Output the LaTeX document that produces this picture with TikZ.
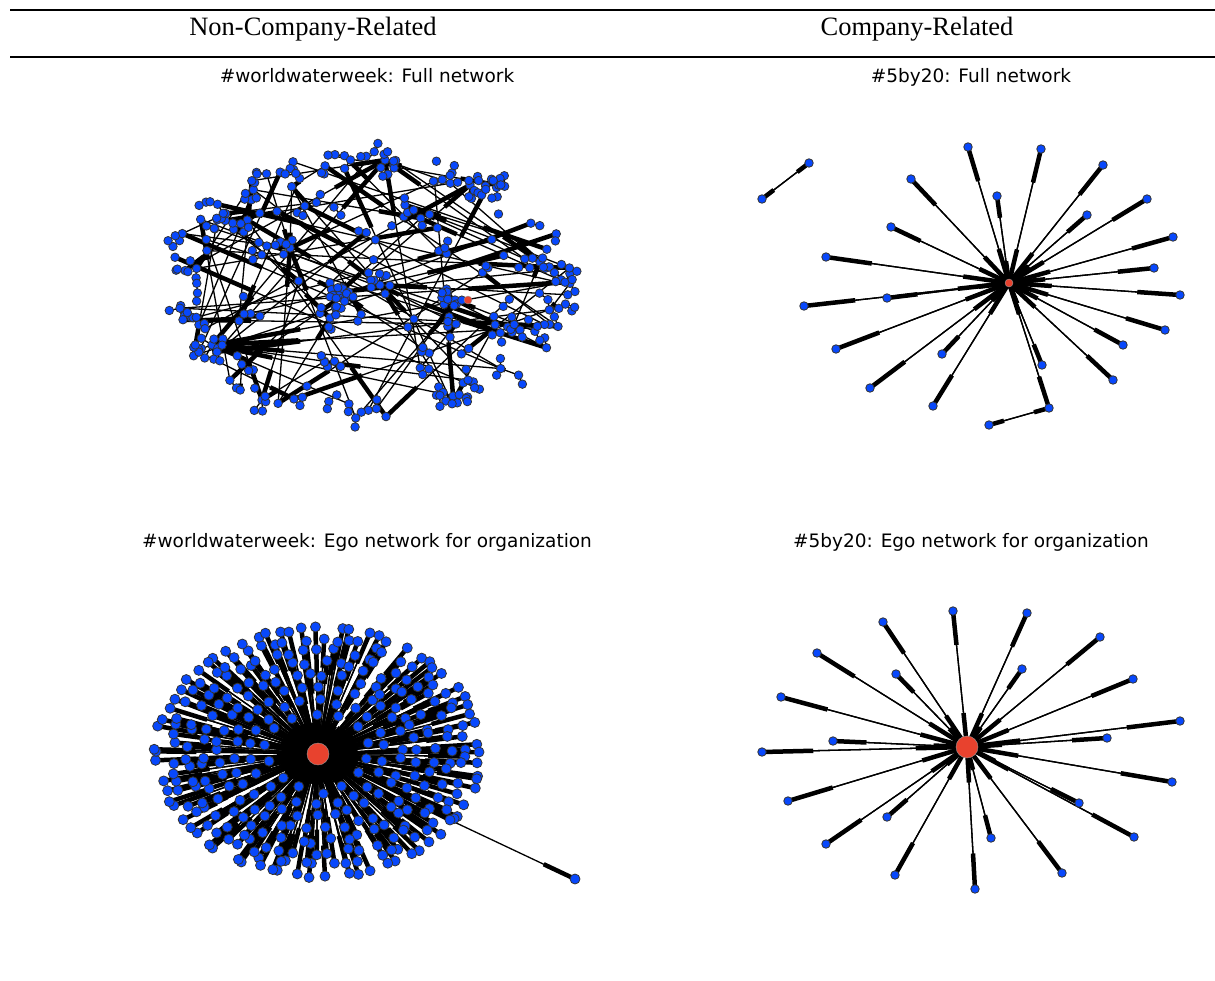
\documentclass[tikz,border=0pt]{standalone}
\usepackage{fontspec}
\setmainfont{Liberation Serif}
\newfontfamily\plotfont{DejaVu Sans}
\usetikzlibrary{calc,backgrounds}

\definecolor{nodeblue}{RGB}{8,72,252}
\definecolor{nodered}{RGB}{232,66,46}

% thin line with a thick bar on the last quarter, as networkx draws arrows
\newcommand{\arrowedge}[2]{%
  \draw[thinlink] (#1.center) -- (#2.center);
  \draw[headlink] ($(#1.center)!0.75!(#2.center)$) -- (#2.center);}

\begin{document}
\begin{tikzpicture}[x=1pt,y=-1pt,
leaf/.style={circle,draw=black!80,fill=nodeblue,line width=0.8pt,inner sep=0pt,minimum size=8.5pt},
bigleaf/.style={leaf,minimum size=10pt},
ego/.style={circle,draw=black!40,fill=nodered,line width=0.4pt,inner sep=0pt,minimum size=8pt},
bigego/.style={ego,minimum size=22pt},
thinlink/.style={line width=1.3pt},
headlink/.style={line width=4.5pt},
rule/.style={line width=2pt},
header/.style={font=\fontsize{26.5}{30}\selectfont,anchor=base},
plottitle/.style={font=\plotfont\fontsize{18.5}{22}\selectfont,anchor=base}]

\useasboundingbox (0,0) rectangle (1215,980);

% table head
\draw[rule] (10,10) -- (1215,10);
\draw[rule] (10,57) -- (1215,57);
\node[header] (nonco) at (313,35) {Non-Company-Related};
\node[header] (co) at (917,35) {Company-Related};

% titles
\node[plottitle] (t1) at (367,82) {\#worldwaterweek: Full network};
\node[plottitle] (t2) at (971,82) {\#5by20: Full network};
\node[plottitle] (t3) at (367,547) {\#worldwaterweek: Ego network for organization};
\node[plottitle] (t4) at (971,547) {\#5by20: Ego network for organization};

\pgfmathsetseed{57}

% #worldwaterweek full network: hubs
\foreach \c/\hx/\hy/\m in {1/340/292/12, 2/380/285/9, 3/330/318/9, 4/455/300/10,
    5/290/248/6, 6/540/262/6, 7/212/345/8, 8/470/185/6, 9/405/205/5,
    10/262/400/6, 11/385/160/5, 12/520/330/6} {
  \expandafter\xdef\csname fsize-\c\endcsname{\m}
  \foreach \j in {1,...,\m} {
    \pgfmathsetmacro{\a}{rnd*360}
    \pgfmathsetmacro{\d}{(\j>1)*(4+11*rnd)}
    \node[leaf] (f-\c-\j) at ({\hx+\d*cos(\a)},{\hy+\d*sin(\a)}) {};
  }
}
% small groups, inside and along the rim
\foreach \c in {13,...,160} {
  \pgfmathsetmacro{\a}{rnd*360}
  \pgfmathsetmacro{\r}{\c<85 ? sqrt(rnd) : 0.84+0.16*rnd}
  \pgfmathsetmacro{\cx}{367+205*\r*cos(\a)}
  \pgfmathsetmacro{\cy}{285+134*\r*sin(\a)}
  \pgfmathtruncatemacro{\m}{1+3*rnd}
  \expandafter\xdef\csname fsize-\c\endcsname{\m}
  \foreach \j in {1,...,\m} {
    \pgfmathsetmacro{\b}{rnd*360}
    \pgfmathsetmacro{\d}{(\j>1)*(7+4*rnd)}
    \node[leaf] (f-\c-\j) at ({\cx+\d*cos(\b)},{\cy+\d*sin(\b)}) {};
  }
}
\node[ego] (fr) at (468,300) {};

% #5by20 full network
\node[ego] (s-hub) at (1009,283) {};
\foreach \n/\x/\y in {a/968/147, b/1041/149, c/1103/165, d/1147/199, e/1173/237,
    f/1154/268, g/1180/295, h/1165/330, i/1123/345, j/1113/380, k/1042/365,
    l/1049/408, m/933/406, n/870/388, o/942/354, p/836/349, q/804/306,
    r/887/298, s/826/257, t/891/227, u/911/179, v/997/196, w/1087/215}
  \node[leaf] (s-\n) at (\x,\y) {};
\node[leaf] (s-x) at (989,425) {};
\node[leaf] (s-y) at (809,163) {};
\node[leaf] (s-z) at (762,199) {};

% #worldwaterweek ego network
\node[bigego] (w-hub) at (318,754) {};
\foreach \ring/\f/\n in {1/0.32/14, 2/0.42/22, 3/0.52/30, 4/0.62/38,
    5/0.72/46, 6/0.82/54, 7/0.91/62, 8/1.0/70} {
  \pgfmathsetmacro{\off}{rnd*360}
  \foreach \j in {1,...,\n} {
    \pgfmathsetmacro{\ang}{\off+\j/\n*360+6*(rnd-0.5)}
    \pgfmathsetmacro{\rr}{\f+0.04*(rnd-0.5)}
    \node[bigleaf] (w-\ring-\j) at ({318+161*\rr*cos(\ang)},{752+124*\rr*sin(\ang)}) {};
  }
}
\node[bigleaf] (w-x) at (450,820) {};
\node[bigleaf] (w-y) at (575,879) {};

% #5by20 ego network
\node[bigego] (e-hub) at (967,747) {};
\foreach \n/\x/\y in {a/953/611, b/1027/613, c/1100/637, d/1133/679, e/1180/721,
    f/1107/738, g/1172/782, h/1134/837, i/1079/803, j/1062/873, k/991/838,
    l/975/889, m/895/875, n/887/817, o/826/844, p/788/801, q/762/752,
    r/833/741, s/781/697, t/817/653, u/896/674, v/883/622, w/1022/669}
  \node[leaf] (e-\n) at (\x,\y) {};

% all links behind the nodes
\begin{scope}[on background layer]
  % full network, inside the groups
  \foreach \c in {1,...,160} {
    \edef\m{\csname fsize-\c\endcsname}
    \ifnum\m>1
      \foreach \j in {2,...,\m} {
        \ifnum\c<13 \arrowedge{f-\c-\j}{f-\c-1}\else \arrowedge{f-\c-1}{f-\c-\j}\fi
      }
    \fi
  }
  % full network, long links
  \foreach \e in {1,...,60} {
    \pgfmathrandominteger{\p}{13}{160}
    \pgfmathrandominteger{\q}{13}{160}
    \arrowedge{f-\p-1}{f-\q-1}
  }
  \foreach \e in {1,...,45} {
    \pgfmathrandominteger{\p}{13}{160}
    \pgfmathrandominteger{\q}{1}{12}
    \arrowedge{f-\p-1}{f-\q-1}
  }
  \arrowedge{fr}{f-4-1}
  % 5by20 full network
  \foreach \n in {a,b,c,d,e,f,g,h,i,j,k,l,m,n,o,p,q,r,s,t,u,v,w} {
    \arrowedge{s-hub}{s-\n}
    \arrowedge{s-\n}{s-hub}
  }
  \arrowedge{s-l}{s-x}
  \arrowedge{s-x}{s-l}
  \arrowedge{s-y}{s-z}
  \arrowedge{s-z}{s-y}
  % worldwaterweek ego network
  \foreach \ring/\n in {1/14, 2/22, 3/30, 4/38, 5/46, 6/54, 7/62, 8/70} {
    \foreach \j in {1,...,\n} {
      \arrowedge{w-hub}{w-\ring-\j}
      \arrowedge{w-\ring-\j}{w-hub}
    }
  }
  \arrowedge{w-hub}{w-x}
  \arrowedge{w-x}{w-y}
  % 5by20 ego network
  \foreach \n in {a,b,c,d,e,f,g,h,i,j,k,l,m,n,o,p,q,r,s,t,u,v,w} {
    \arrowedge{e-hub}{e-\n}
    \arrowedge{e-\n}{e-hub}
  }
\end{scope}
\end{tikzpicture}
\end{document}
